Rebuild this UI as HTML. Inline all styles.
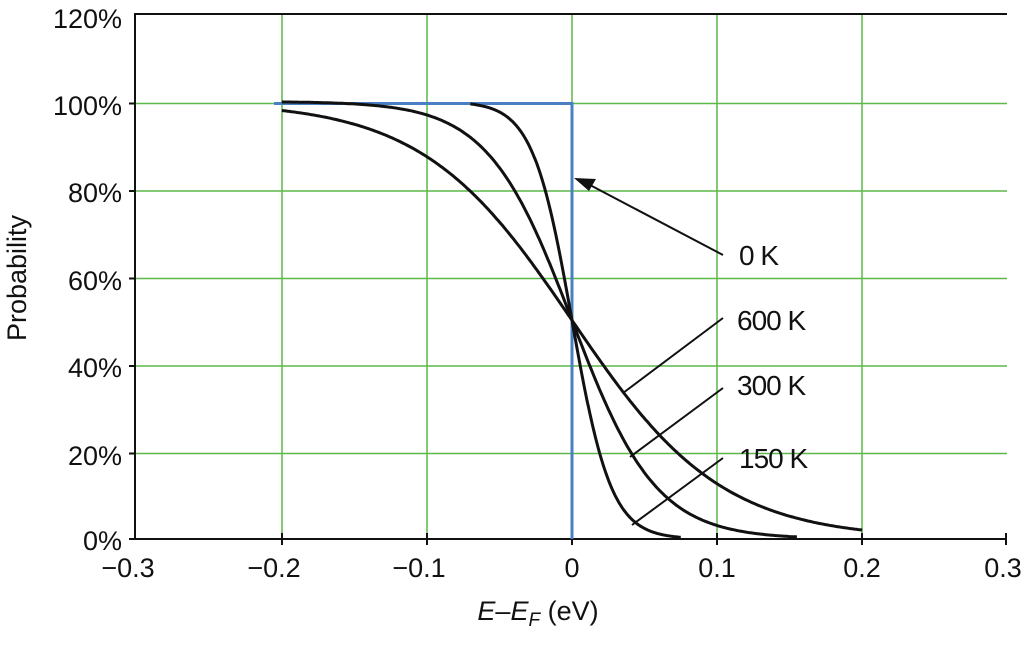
<!DOCTYPE html>
<html><head><style>
html,body{margin:0;padding:0;background:#fff;}
svg text{font-family:"Liberation Sans",sans-serif;fill:#111;}
</style></head><body>
<svg id="s" width="1029" height="642" viewBox="0 0 1029 642" xmlns="http://www.w3.org/2000/svg">
<g stroke="#5cb848" stroke-width="1.5">
<line x1="282" y1="14" x2="282" y2="539"/><line x1="427" y1="14" x2="427" y2="539"/>
<line x1="572" y1="14" x2="572" y2="539"/><line x1="717" y1="14" x2="717" y2="539"/>
<line x1="862" y1="14" x2="862" y2="539"/>
<line x1="135" y1="103.5" x2="1007" y2="103.5"/><line x1="135" y1="191" x2="1007" y2="191"/>
<line x1="135" y1="278.5" x2="1007" y2="278.5"/><line x1="135" y1="366" x2="1007" y2="366"/>
<line x1="135" y1="453.5" x2="1007" y2="453.5"/>
</g>
<g stroke="#111" stroke-width="2" fill="none">
<polyline points="1007,14 135,14 135,539 1007,539"/>
<line x1="129" y1="103.5" x2="135" y2="103.5"/><line x1="129" y1="191" x2="135" y2="191"/>
<line x1="129" y1="278.5" x2="135" y2="278.5"/><line x1="129" y1="366" x2="135" y2="366"/>
<line x1="129" y1="453.5" x2="135" y2="453.5"/><line x1="129" y1="539" x2="135" y2="539"/>
<line x1="282" y1="533" x2="282" y2="545"/><line x1="427" y1="533" x2="427" y2="545"/>
<line x1="572" y1="533" x2="572" y2="545"/><line x1="717" y1="533" x2="717" y2="545"/>
<line x1="862" y1="533" x2="862" y2="545"/><line x1="1006" y1="533" x2="1006" y2="545"/>
</g>
<polyline points="274,103.5 572,103.5 572,539" fill="none" stroke="#4a7fc4" stroke-width="3"/>
<g id="curves" stroke="#111" stroke-width="3" fill="none"></g>
<g stroke="#111" stroke-width="2">
<line x1="723" y1="255" x2="590" y2="185"/>
<line x1="723" y1="318" x2="623" y2="393"/>
<line x1="723" y1="388" x2="630" y2="457"/>
<line x1="723" y1="458" x2="632" y2="525"/>
</g>
<polygon points="574,178 596,179 589,191" fill="#111"/>
<g font-size="28">
<text x="739" y="265" letter-spacing="-1">0 K</text>
<text x="737" y="330" letter-spacing="-1">600 K</text>
<text x="737" y="395" letter-spacing="-1">300 K</text>
<text x="739" y="468" letter-spacing="-1">150 K</text>
</g>
<g font-size="27" text-anchor="end">
<text x="122" y="28">120%</text><text x="122" y="115">100%</text>
<text x="122" y="202">80%</text><text x="122" y="290">60%</text>
<text x="122" y="377">40%</text><text x="122" y="465">20%</text>
<text x="122" y="550">0%</text>
</g>
<g font-size="27" text-anchor="middle">
<text x="128" y="577">−0.3</text><text x="274" y="577">−0.2</text>
<text x="419" y="577">−0.1</text><text x="572" y="577">0</text>
<text x="717" y="577">0.1</text><text x="862" y="577">0.2</text>
<text x="1003" y="577">0.3</text>
<text x="538" y="620"><tspan font-style="italic">E</tspan>–<tspan font-style="italic">E</tspan><tspan font-style="italic" font-size="19" dy="6">F</tspan><tspan dy="-6"> (eV)</tspan></text>
</g>
<text font-size="27" text-anchor="middle" transform="translate(26,278) rotate(-90)">Probability</text>
<script>
(function(){
var g=document.getElementById('curves');
function X(e){return 572+e*1451;} function Y(p){return 539-p*437.5;}
var cs=[[0.0517,-0.2,0.2],[0.029,-0.2,0.155],[0.0135,-0.07,0.075]];
cs.forEach(function(c){var d='';for(var i=0;i<=300;i++){var e=c[1]+(c[2]-c[1])*i/300;var f=1/(1+Math.exp(e/c[0]));d+=(i?'L':'M')+X(e).toFixed(1)+','+Y(f).toFixed(1);}
var p=document.createElementNS('http://www.w3.org/2000/svg','path');p.setAttribute('d',d);g.appendChild(p);});
})();
</script>
</svg>
</body></html>
